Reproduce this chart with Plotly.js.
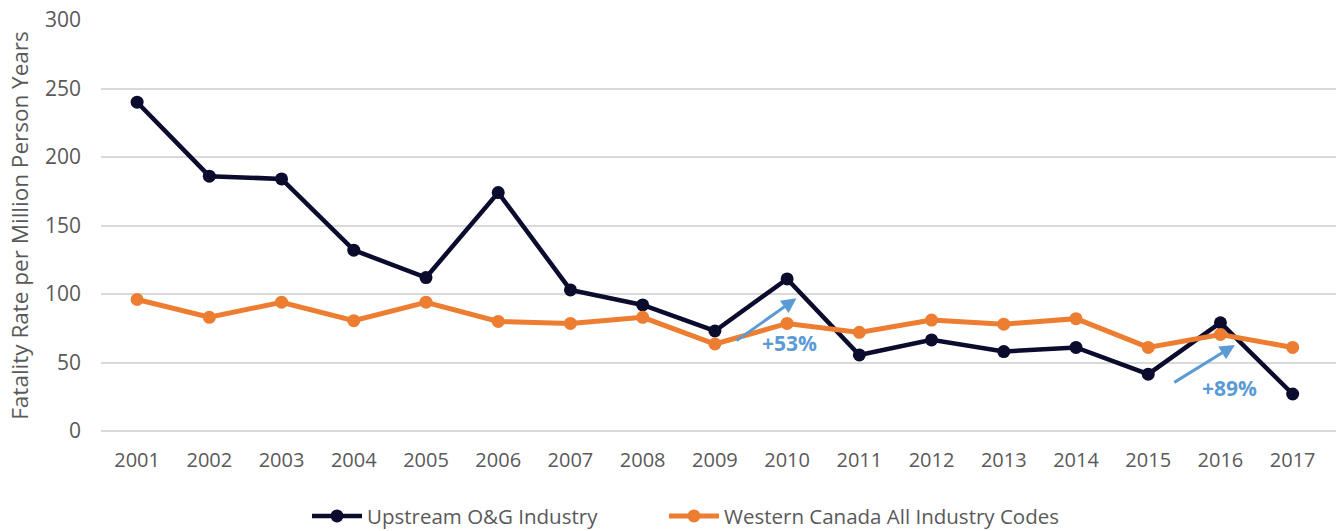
<!DOCTYPE html>
<html>
<head>
<meta charset="utf-8">
<script src="https://cdn.plot.ly/plotly-3.0.1.min.js"></script>
<style>
html,body{margin:0;padding:0;background:#fff;}
#chart{width:1336px;height:531px;}
</style>
</head>
<body>
<div id="chart"></div>
<script>
const years = ['2001','2002','2003','2004','2005','2006','2007','2008','2009','2010','2011','2012','2013','2014','2015','2016','2017'];
const upstream = [240, 186, 184, 132, 112, 174, 103, 92, 73, 111, 55.5, 66.5, 58, 61, 41.5, 79, 27];
const westernCanada = [96, 83, 94, 80.5, 94, 80, 78.5, 83, 63.5, 78.5, 72, 81, 78, 82, 61, 70.5, 61];
const yTicks = [0, 50, 100, 150, 200, 250, 300];

const fontFam = '"Open Sans", "Noto Sans", sans-serif';
const grey = '#595959';
const blue = '#5b9bd5';

const traces = [
  {
    x: years, y: upstream, name: 'Upstream O&G Industry',
    type: 'scatter', mode: 'lines+markers', legend: 'legend',
    line: {color: '#0b0b2e', width: 4.5},
    marker: {color: '#0b0b2e', size: 13}
  },
  {
    x: years, y: westernCanada, name: 'Western Canada All Industry Codes',
    type: 'scatter', mode: 'lines+markers', legend: 'legend2',
    line: {color: '#ed7d31', width: 5},
    marker: {color: '#ed7d31', size: 13}
  }
];

const legendBase = {
  orientation: 'h', xref: 'container', yref: 'container',
  xanchor: 'left', y: 0.028, yanchor: 'middle',
  font: {family: fontFam, size: 20.5, color: grey},
  itemwidth: 50, bgcolor: 'rgba(0,0,0,0)'
};

const layout = {
  width: 1336, height: 531,
  margin: {l: 101, r: 0, t: 20, b: 100, autoexpand: false},
  paper_bgcolor: '#ffffff', plot_bgcolor: '#ffffff',
  font: {family: fontFam, color: grey, size: 20},
  showlegend: true,
  legend: Object.assign({}, legendBase, {x: 0.2298}),
  legend2: Object.assign({}, legendBase, {x: 0.497}),
  xaxis: {
    type: 'category', range: [-0.5, 16.6],
    showgrid: false, zeroline: false, showline: false,
    ticks: '', ticklabelstandoff: 15,
    tickfont: {family: fontFam, size: 20, color: grey},
    fixedrange: true
  },
  yaxis: {
    range: [0, 300], tickvals: yTicks,
    showgrid: true, gridcolor: '#d9d9d9', gridwidth: 2,
    zeroline: true, zerolinecolor: '#d9d9d9', zerolinewidth: 2,
    showline: false, ticks: '', ticklabelstandoff: 19,
    tickfont: {family: fontFam, size: 21, color: grey},
    title: {text: 'Fatality Rate per Million Person Years', font: {family: fontFam, size: 22.5, color: grey}, standoff: 10},
    fixedrange: true
  },
  annotations: [
    {x: 9.13, y: 96.9, ax: 8.28, ay: 65.2, xref: 'x', yref: 'y', axref: 'x', ayref: 'y',
     showarrow: true, arrowhead: 2, arrowsize: 1, arrowwidth: 3, arrowcolor: blue, text: ''},
    {x: 15.2, y: 62.8, ax: 14.34, ay: 34.8, xref: 'x', yref: 'y', axref: 'x', ayref: 'y',
     showarrow: true, arrowhead: 2, arrowsize: 1, arrowwidth: 3, arrowcolor: blue, text: ''},
    {x: 9.03, y: 64.2, xref: 'x', yref: 'y', showarrow: false, text: '<b>+53%</b>',
     font: {family: fontFam, size: 21, color: blue}},
    {x: 15.13, y: 31.4, xref: 'x', yref: 'y', showarrow: false, text: '<b>+89%</b>',
     font: {family: fontFam, size: 21, color: blue}}
  ]
};

Plotly.newPlot('chart', traces, layout, {displayModeBar: false, staticPlot: true});
</script>
</body>
</html>
